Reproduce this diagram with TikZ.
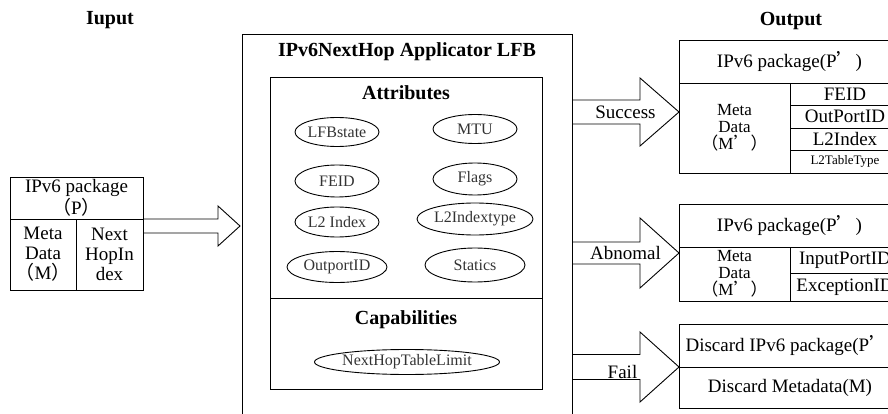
\documentclass[tikz,border=0pt]{standalone}
\usepackage{fontspec}
\setmainfont{Liberation Serif}
\newfontfamily\cjk{Noto Sans CJK SC}
\usetikzlibrary{shapes.geometric, positioning, calc}

\begin{document}
\begin{tikzpicture}[
  x=1pt, y=-1pt,
  line width=0.9pt,
  ttl/.style={font=\bfseries\fontsize{20}{22}\selectfont, inner sep=0pt},
  frame/.style={rectangle, draw, outer sep=0pt, anchor=north west},
  cell/.style={rectangle, draw, inner sep=0pt, outer sep=0pt, align=center, font=\fontsize{19}{20}\selectfont},
  meta/.style={cell, font=\fontsize{17}{17}\selectfont},
  attr/.style={ellipse, draw, inner sep=0pt, text=black!80, font=\fontsize{16}{18}\selectfont, minimum width=84pt, minimum height=29pt},
  lbl/.style={inner sep=0pt, font=\fontsize{19}{20}\selectfont},
  fat/.style={draw, line width=0.9pt, line join=miter}
]
  \useasboundingbox (0,0) rectangle (888,414);
  \clip (0,0) rectangle (888,414);

  % input side
  \node[ttl] (intitle) at (110,20) {Iuput};
  \node[cell, anchor=north west, minimum width=133pt, minimum height=42pt] (inpkt) at (10,177) {IPv6 package\\{\cjk（}P{\cjk）}};
  \node[cell, anchor=north west, minimum width=66pt, minimum height=71pt] (inmeta) at (inpkt.south west) {Meta\\Data\\{\cjk（}M{\cjk）}};
  \node[cell, anchor=north west, minimum width=67pt, minimum height=71pt] (innext) at (inmeta.north east) {Next\\HopIn\\dex};

  % the LFB
  \node[frame, minimum width=330pt, minimum height=400pt] (lfb) at (242,34) {};
  \node[ttl] (lfbtitle) at (407,52) {IPv6NextHop Applicator LFB};
  \node[frame, minimum width=272pt, minimum height=221pt] (attrbox) at (270,77) {};
  \node[ttl, below=8pt of attrbox.north] (attrtitle) {Attributes};
  \node[frame, minimum width=272pt, minimum height=91pt] (capbox) at (attrbox.south west) {};
  \node[ttl, below=12pt of capbox.north] (captitle) {Capabilities};

  \node[attr] (lfbstate) at (337,132) {LFBstate};
  \node[attr] (mtu) at (475,129) {MTU};
  \node[attr, minimum height=32pt] (feid) at (337,181) {FEID};
  \node[attr, minimum height=32pt] (flags) at (475,179) {Flags};
  \node[attr, minimum height=30pt] (l2index) at (337,222) {L2 Index};
  \node[attr, minimum width=116pt, minimum height=32pt] (l2type) at (475,219) {L2Indextype};
  \node[attr, minimum width=100pt, minimum height=31pt] (outport) at (337,267) {OutportID};
  \node[attr, minimum width=100pt, minimum height=34pt] (statics) at (475,265) {Statics};
  \node[attr, minimum width=185pt, minimum height=25pt] (nhlimit) at (407,362) {NextHopTableLimit};

  % output side
  \node[ttl] (outtitle) at (791,21) {Output};

  \node[cell, anchor=north west, minimum width=221pt, minimum height=43pt] (sucpkt) at (679,40) {IPv6 package(P{\cjk ’})};
  \node[meta, anchor=north west, minimum width=111pt, minimum height=90pt] (sucmeta) at (sucpkt.south west) {Meta\\Data\\{\cjk（}M{\cjk ’）}};
  \node[cell, anchor=north west, minimum width=110pt, minimum height=22.5pt] (sucfeid) at (sucmeta.north east) {FEID};
  \node[cell, below=0pt of sucfeid, minimum width=110pt, minimum height=22.5pt] (sucport) {OutPortID};
  \node[cell, below=0pt of sucport, minimum width=110pt, minimum height=22.5pt] (sucl2) {L2Index};
  \node[cell, below=0pt of sucl2, minimum width=110pt, minimum height=22.5pt, font=\fontsize{13}{14}\selectfont] (sucl2type) {L2TableType};

  \node[cell, anchor=north west, minimum width=221pt, minimum height=43pt] (abnpkt) at (679,204) {IPv6 package(P{\cjk ’})};
  \node[meta, anchor=north west, minimum width=111pt, minimum height=54pt] (abnmeta) at (abnpkt.south west) {Meta\\Data\\{\cjk（}M{\cjk ’）}};
  \node[cell, anchor=north west, minimum width=110pt, minimum height=26pt] (abnin) at (abnmeta.north east) {InputPortID};
  \node[cell, below=0pt of abnin, minimum width=110pt, minimum height=28pt] (abnexc) {ExceptionID};

  \node[cell, anchor=north west, minimum width=222pt, minimum height=43pt] (failpkt) at (679,324) {Discard IPv6 package(P{\cjk ’})};
  \node[cell, below=0pt of failpkt, minimum width=222pt, minimum height=41pt] (failmeta) {Discard Metadata(M)};

  % fat arrows
  \coordinate (intip) at (240,226);
  \coordinate (suctip) at (679,112);
  \coordinate (abntip) at (679,253);
  \coordinate (failtip) at (679,367);

  \draw[fat] ($(innext.east |- intip)+(0,-7)$) -- ($(intip)+(-22,-7)$) -- ($(intip)+(-22,-20)$) -- (intip)
    -- ($(intip)+(-22,20)$) -- ($(intip)+(-22,7)$) -- ($(innext.east |- intip)+(0,7)$);
  \draw[fat] ($(lfb.east |- suctip)+(0,-12)$) -- ($(suctip)+(-39,-12)$) -- ($(suctip)+(-39,-34)$) -- (suctip)
    -- ($(suctip)+(-39,34)$) -- ($(suctip)+(-39,12)$) -- ($(lfb.east |- suctip)+(0,12)$);
  \draw[fat] ($(lfb.east |- abntip)+(0,-11)$) -- ($(abntip)+(-39,-11)$) -- ($(abntip)+(-39,-35)$) -- (abntip)
    -- ($(abntip)+(-39,35)$) -- ($(abntip)+(-39,11)$) -- ($(lfb.east |- abntip)+(0,11)$);
  \draw[fat] ($(lfb.east |- failtip)+(0,-12.5)$) -- ($(failtip)+(-39,-12.5)$) -- ($(failtip)+(-39,-35)$) -- (failtip)
    -- ($(failtip)+(-39,35)$) -- ($(failtip)+(-39,12.5)$) -- ($(lfb.east |- failtip)+(0,12.5)$);

  \node[lbl] (suclbl) at ($(lfb.east |- suctip)!0.5!(suctip)$) {Success};
  \node[lbl] (abnlbl) at ($(lfb.east |- abntip)!0.5!(abntip)$) {Abnomal};
  \node[lbl, xshift=-3pt, yshift=-5pt] (faillbl) at ($(lfb.east |- failtip)!0.5!(failtip)$) {Fail};
\end{tikzpicture}
\end{document}
